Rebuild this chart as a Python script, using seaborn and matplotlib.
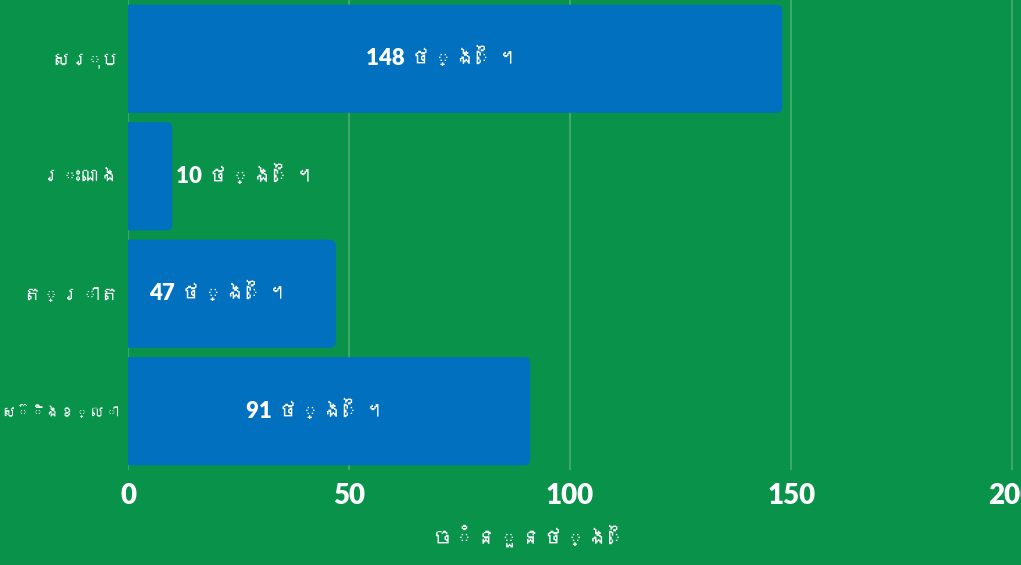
import numpy as np
import pandas as pd
import matplotlib
matplotlib.use("Agg")
import matplotlib.pyplot as plt
import seaborn as sns
from matplotlib import font_manager
from matplotlib.patches import FancyBboxPatch
from matplotlib.transforms import offset_copy

# --- Data ---
provinces = ["សរុប", "រះណង", "ត្រាត", "ស៊ិងខ្លា"]
days = [148, 10, 47, 91]
unit = "ថ្ងៃ។"
x_label = "ចំនួនថ្ងៃ"
x_ticks = [0, 50, 100, 150, 200]

bg_green = "#08924a"
bar_blue = "#0070bf"
grid_green = "#3ea86c"


def find_khmer_font():
    """Look for any installed font that has Khmer glyphs."""
    try:
        from fontTools.ttLib import TTFont
    except ImportError:
        return None
    for path in font_manager.findSystemFonts():
        try:
            f = TTFont(path, fontNumber=0, lazy=True)
            cmap = f.getBestCmap() or {}
            if 0x1780 in cmap and 0x179F in cmap:
                return font_manager.FontProperties(fname=path).get_name()
        except Exception:
            continue
    return None


sns.set_theme(style="white")
khmer = find_khmer_font()
families = ["Lato"] + ([khmer] if khmer else []) + ["DejaVu Sans"]
plt.rcParams["font.family"] = families

df = pd.DataFrame({"province": provinces, "days": days})

fig = plt.figure(figsize=(10.21, 5.65), dpi=100, facecolor=bg_green)
ax = fig.add_axes([128 / 1021, 95 / 565, 1 - 128 / 1021, 470 / 565])
ax.set_facecolor(bg_green)

sns.barplot(data=df, x="days", y="province", color=bar_blue, saturation=1,
            width=0.92, ax=ax, zorder=3)
ax.set_xlim(0, 202)

# rounded right ends: replace rectangles with rounded boxes (left end clipped by axes)
ppx = ax.bbox.width / 202
ppy = ax.bbox.height / 4
r = 6 / ppx
for p in list(ax.patches):
    x0, y0, w, h = p.get_x(), p.get_y(), p.get_width(), p.get_height()
    p.remove()
    box = FancyBboxPatch((x0 - r, y0), w + r, h,
                         boxstyle=f"round,pad=0,rounding_size={r}",
                         mutation_aspect=ppx / ppy,
                         facecolor=bar_blue, edgecolor="none", zorder=3,
                         clip_on=True)
    ax.add_patch(box)

# value labels
for i, v in enumerate(days):
    label = f"{v} {unit}"
    if v < 20:
        tr = offset_copy(ax.transData, fig=fig, x=4, y=0, units="dots")
        ax.text(v, i, label, ha="left", va="center", color="white",
                fontsize=16, fontweight="heavy", transform=tr, zorder=4)
    else:
        tr = offset_copy(ax.transData, fig=fig, x=-12, y=0, units="dots")
        ax.text(v / 2, i, label, ha="center", va="center", color="white",
                fontsize=16, fontweight="heavy", transform=tr, zorder=4)

ax.set_xticks(x_ticks)
ax.set_xticklabels([str(t) for t in x_ticks])
ax.tick_params(axis="x", length=0, pad=9, labelsize=20, labelcolor="white")
ax.tick_params(axis="y", length=0, pad=6, labelsize=14, labelcolor="white")
for lab in ax.get_xticklabels():
    lab.set_fontweight("heavy")
ax.set_ylabel("")
ax.set_xlabel(x_label, color="white", fontsize=16, fontweight="bold")
ax.xaxis.set_label_coords(0.452, -0.12)

ax.grid(axis="x", color=grid_green, linewidth=1.5, zorder=0)
ax.grid(axis="y", visible=False)
ax.set_axisbelow(True)
for s in ax.spines.values():
    s.set_visible(False)

# shrink any category label that would run off the left edge
fig.canvas.draw()
renderer = fig.canvas.get_renderer()
for lab in ax.get_yticklabels():
    ext = lab.get_window_extent(renderer)
    room = ax.bbox.x0 - 10
    if ext.width > room:
        lab.set_fontsize(lab.get_fontsize() * room / ext.width)

fig.savefig("out.png", dpi=100, facecolor=bg_green)
